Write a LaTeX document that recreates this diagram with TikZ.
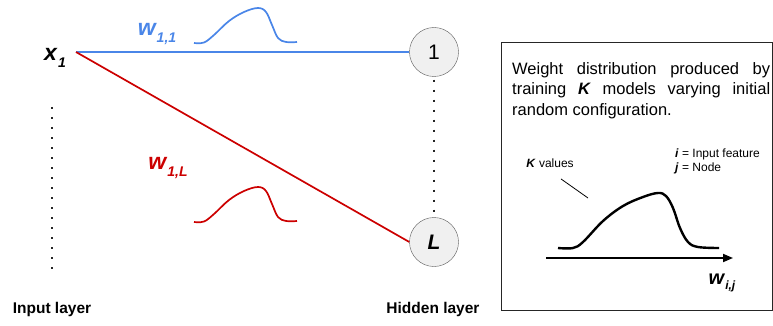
\documentclass[tikz,border=0pt]{standalone}
\usepackage{fontspec}
\setmainfont{Liberation Sans}
\usetikzlibrary{arrows.meta}

\definecolor{wblue}{HTML}{4A86E8}
\definecolor{wred}{HTML}{CC0000}
\tolerance=9999
\hyphenpenalty=10000

% bold italic variable with a lowered subscript: {var}{sub}{var size}{sub size}
\newcommand{\subvar}[4]{{\fontsize{#3}{#3}\selectfont\bfseries\itshape #1\kern1pt\raisebox{-0.55ex}{\fontsize{#4}{#4}\selectfont #2}}}

\begin{document}
\begin{tikzpicture}[x=1pt, y=-1pt,
  neuron/.style={circle, draw=gray!70!black, fill=gray!12, minimum size=49pt, inner sep=0pt, font=\fontsize{21}{21}\selectfont},
  wire/.style={line width=1.7pt},
  dotline/.style={line width=2pt, dash pattern=on 2pt off 8pt, gray!30!black},
  layerlabel/.style={font=\fontsize{15.5}{15.5}\selectfont\bfseries},
  bump/.style={line width=1.7pt},
  small/.style={font=\fontsize{12}{14}\selectfont},
]
\useasboundingbox (0,0) rectangle (773,326);

% === NETWORK ===
\node (x1) at (55,58) {\subvar{x}{1}{23}{14}};
\coordinate (src) at (76,52);
\node[neuron] (h1) at (434,52) {1};
\node[neuron, font=\fontsize{21}{21}\selectfont\bfseries\itshape] (hL) at (434,242) {L};

\draw[dotline] (52,107) -- (52,270);
\draw[dotline] ([yshift=-3pt]h1.south) -- ([yshift=3pt]hL.north);

\draw[wire, wblue] (src) -- (h1.west);
\draw[wire, wred] (src) -- (hL.west);

\node[wblue] (w11) at (157,34) {\subvar{w}{1,1}{23}{14}};
\node[wred] (w1L) at (168,168) {\subvar{w}{1,L}{23}{14}};

\begin{scope}[shift={(194,43)}]
  \draw[bump, wblue] plot[smooth, tension=0.6] coordinates {(0,0) (10,-0.5) (20,-8) (35,-22) (50,-31) (64,-35) (72,-31) (78,-18) (84,-5) (92,-1) (103,-1)};
\end{scope}
\begin{scope}[shift={(194,222)}]
  \draw[bump, wred] plot[smooth, tension=0.6] coordinates {(0,0) (10,-0.5) (20,-8) (35,-22) (50,-31) (64,-35) (72,-31) (78,-18) (84,-5) (92,-1) (103,-1)};
\end{scope}

\node[layerlabel] (inlab) at (52,309) {Input layer};
\node[layerlabel] (hidlab) at (433,309) {Hidden layer};

% === DISTRIBUTION PANEL ===
\draw[line width=0.9pt, gray!30!black] (501,42) rectangle (772,310);

\node[anchor=north west, inner sep=0pt, text width=258pt, align=justify, font=\fontsize{16.5}{20.5}\selectfont] (desc) at (512,62)
  {Weight distribution produced by training \textbf{\textit{K}} models varying initial random configuration.};

\node[small] (kval) at (550,163) {\textbf{\textit{K}} values};
\node[small, anchor=north west, inner sep=0pt, align=left] (ij) at (675,149)
  {\textbf{\textit{i}} = Input feature\\\textbf{\textit{j}} = Node};
\coordinate (ptr) at (588,198);
\draw[line width=0.8pt] ([xshift=11pt,yshift=-8pt]kval.south) -- (ptr);

\coordinate (axL) at (546,258);
\coordinate (axR) at (733,258);
\draw[line width=1.8pt, -{Triangle[length=10pt, width=8pt]}] (axL) -- (axR);

\begin{scope}[shift={(558,248)}]
  \draw[line width=2.4pt] plot[smooth, tension=0.6] coordinates {(0,0) (15,0) (25,-6) (45,-27) (65,-42) (85,-51) (100,-55) (108,-52) (115,-40) (122,-20) (130,-6) (140,-1) (161,0)};
\end{scope}

\node (wij) at (722,283) {\subvar{w}{i,j}{20}{12}};
\end{tikzpicture}
\end{document}
